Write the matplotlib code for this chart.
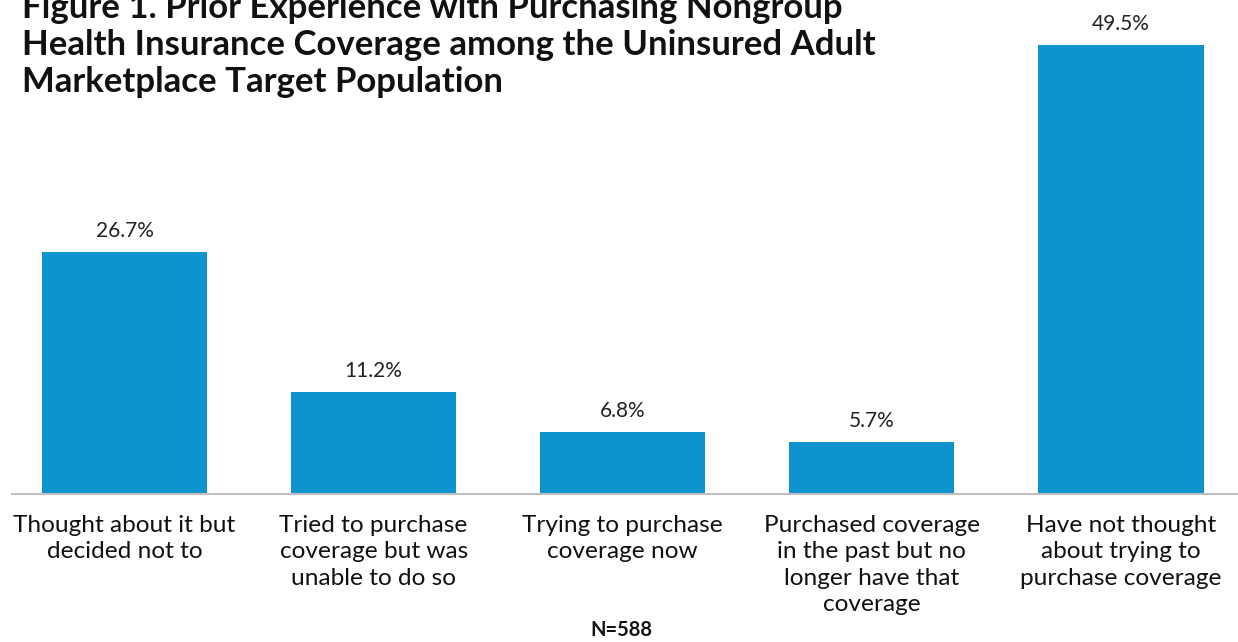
import matplotlib
matplotlib.use("Agg")
import matplotlib.pyplot as plt

categories = [
    "Thought about it but\ndecided not to",
    "Tried to purchase\ncoverage but was\nunable to do so",
    "Trying to purchase\ncoverage now",
    "Purchased coverage\nin the past but no\nlonger have that\ncoverage",
    "Have not thought\nabout trying to\npurchase coverage",
]
values = [26.7, 11.2, 6.8, 5.7, 49.5]
value_labels = ["26.7%", "11.2%", "6.8%", "5.7%", "49.5%"]
title_lines = [
    "Figure 1. Prior Experience with Purchasing Nongroup",
    "Health Insurance Coverage among the Uninsured Adult",
    "Marketplace Target Population",
]

plt.rcParams['font.family'] = ['Lato', 'DejaVu Sans']

W, H = 1238, 642
fig = plt.figure(figsize=(W / 100, H / 100), dpi=100)
ax = fig.add_axes([12 / W, (H - 494) / H, (W - 12) / W, 494 / H])

x = list(range(len(values)))
bars = ax.bar(x, values, width=0.663, color='#0F93CE', zorder=2)
ax.set_xlim(-0.452, 4.47)
ax.set_ylim(0, 54.5)

for b, lab in zip(bars, value_labels):
    ax.annotate(lab, (b.get_x() + b.get_width() / 2, b.get_height()),
                xytext=(0, 8), textcoords='offset points', ha='center', va='bottom',
                fontsize=15, color='#222222')

ax.set_xticks(x)
ax.set_xticklabels(categories, fontsize=17.6, color='#111111', linespacing=1.32)
ax.tick_params(axis='x', length=0, pad=15)
ax.set_yticks([])
for s in ['top', 'right', 'left']:
    ax.spines[s].set_visible(False)
ax.spines['bottom'].set_color('#BFBFBF')
ax.spines['bottom'].set_linewidth(1.5)

ys = [8, 45, 82]
for line, y in zip(title_lines, ys):
    fig.text(22 / W, 1 - y / H, line, ha='left', va='center', fontsize=25,
             fontweight='bold', color='#111111')

fig.text(621 / W, 1 - 630 / H, "N=588", ha='center', va='center', fontsize=14.5,
         fontweight='bold', color='#111111')

fig.savefig('out.png', dpi=100)
